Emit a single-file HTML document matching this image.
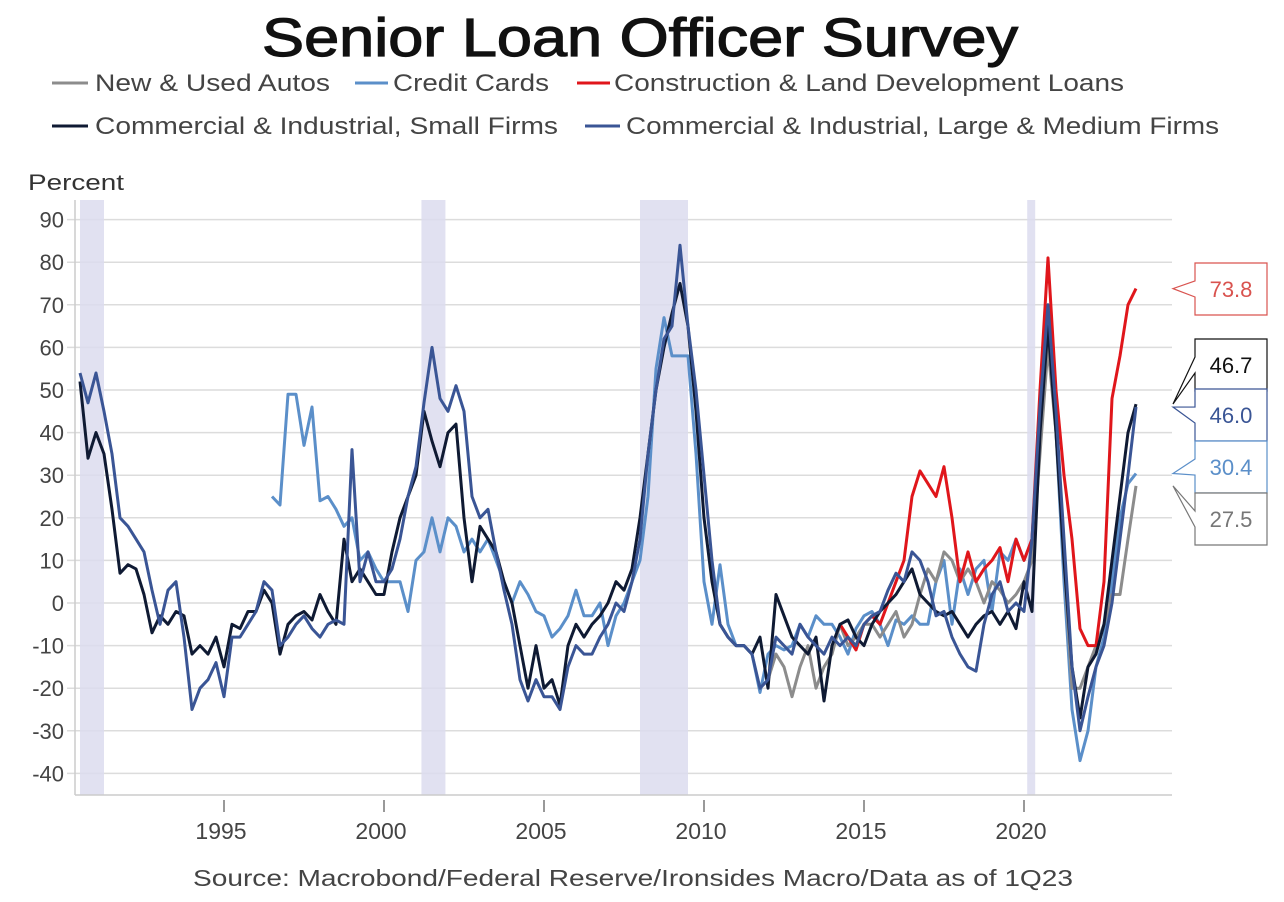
<!DOCTYPE html>
<html><head><meta charset="utf-8">
<style>
body{margin:0;background:#fff;font-family:"Liberation Sans",Arial,sans-serif;}
svg{display:block}
</style></head>
<body>
<svg id="chart" width="1284" height="902">
<text x="262" y="56" font-size="54" fill="#111" stroke="#111" stroke-width="1.2" textLength="756" lengthAdjust="spacingAndGlyphs">Senior Loan Officer Survey</text>
<g font-size="24" fill="#444">
 <g><line x1="52" y1="83" x2="88" y2="83" stroke="#8c8c8c" stroke-width="3"/><text x="95" y="91" textLength="235" lengthAdjust="spacingAndGlyphs">New &amp; Used Autos</text></g>
 <g><line x1="355" y1="83" x2="388" y2="83" stroke="#5b8fc9" stroke-width="3"/><text x="393" y="91" textLength="156" lengthAdjust="spacingAndGlyphs">Credit Cards</text></g>
 <g><line x1="577" y1="83" x2="610" y2="83" stroke="#e0161b" stroke-width="3"/><text x="614" y="91" textLength="510" lengthAdjust="spacingAndGlyphs">Construction &amp; Land Development Loans</text></g>
 <g><line x1="52" y1="126" x2="88" y2="126" stroke="#0f1a33" stroke-width="3"/><text x="95" y="134" textLength="463" lengthAdjust="spacingAndGlyphs">Commercial &amp; Industrial, Small Firms</text></g>
 <g><line x1="585" y1="126" x2="620" y2="126" stroke="#3a5595" stroke-width="3"/><text x="626" y="134" textLength="593" lengthAdjust="spacingAndGlyphs">Commercial &amp; Industrial, Large &amp; Medium Firms</text></g>
</g>
<text x="28" y="190" font-size="22" fill="#333" textLength="96" lengthAdjust="spacingAndGlyphs">Percent</text>
<g id="grid"></g><g id="rec"></g><g id="axes"></g><g id="series"></g><g id="tags"></g>
<text x="193" y="886" font-size="23" fill="#444" textLength="880" lengthAdjust="spacingAndGlyphs">Source: Macrobond/Federal Reserve/Ironsides Macro/Data as of 1Q23</text>
</svg>
<script>
const yTicks=[90,80,70,60,50,40,30,20,10,0,-10,-20,-30,-40];
const xTicks=[1995,2000,2005,2010,2015,2020];
const recessions=[[1990.5,1991.25],[2001.17,2001.92],[2008.0,2009.5],[2020.1,2020.35]];
const ciLargeStart=1990.5;
const ciLarge=[54,47,54,45,35,20,18,15,12,3,-5,3,5,-8,-25,-20,-18,-14,-22,-8,-8,-5,-2,5,3,-10,-8,-5,-3,-6,-8,-5,-4,-5,36,5,12,5,5,8,15,25,32,47,60,48,45,51,45,25,20,22,12,3,-5,-18,-23,-18,-22,-22,-25,-15,-10,-12,-12,-8,-5,0,-2,5,15,35,50,62,65,84,65,50,30,10,-5,-8,-10,-10,-12,-20,-18,-8,-10,-12,-5,-8,-10,-12,-8,-10,-8,-10,-5,-3,-2,3,7,5,12,10,5,-3,-2,-8,-12,-15,-16,-5,2,5,-2,0,-2,15,46,70,45,15,-15,-30,-22,-15,-10,0,15,30,46.0];
const ciSmallStart=1990.5;
const ciSmall=[52,34,40,35,22,7,9,8,2,-7,-3,-5,-2,-3,-12,-10,-12,-8,-15,-5,-6,-2,-2,3,0,-12,-5,-3,-2,-4,2,-2,-5,15,5,8,5,2,2,12,20,25,30,45,38,32,40,42,20,5,18,15,12,5,0,-10,-20,-10,-20,-18,-24,-10,-5,-8,-5,-3,0,5,3,8,20,35,50,60,68,75,65,45,20,5,-5,-8,-10,-10,-12,-8,-20,2,-3,-8,-10,-12,-8,-23,-10,-5,-4,-8,-10,-5,-2,0,2,5,8,2,0,-2,-3,-2,-5,-8,-5,-3,-2,-5,-2,-6,5,-2,40,65,40,10,-15,-27,-15,-12,-5,10,25,40,46.7];
const cardsStart=1996.5;
const cards=[25,23,49,49,37,46,24,25,22,18,20,10,12,8,5,5,5,-2,10,12,20,12,20,18,12,15,12,15,10,5,0,5,2,-2,-3,-8,-6,-3,3,-3,-3,0,-10,-3,0,5,10,25,55,67,58,58,58,35,5,-5,9,-5,-10,-10,-12,-21,-12,-10,-11,-10,-5,-8,-3,-5,-5,-8,-12,-6,-3,-2,-5,-10,-4,-5,-3,-5,-5,5,10,-5,8,2,8,10,-2,12,10,15,10,15,40,70,40,5,-25,-37,-30,-15,-8,5,20,28,30.4];
const autosStart=2011.75;
const autos=[-20,-18,-12,-15,-22,-15,-10,-20,-15,-12,-5,-10,-8,-5,-5,-8,-5,-2,-8,-5,2,8,5,12,10,5,8,5,0,5,3,0,2,5,10,35,60,40,10,-20,-20,-15,-10,-5,2,2,15,27.5];
const constrStart=2014.25;
const constr=[-5,-8,-11,-5,-3,-5,0,5,10,25,31,28,25,32,20,5,12,5,8,10,13,5,15,10,15,50,81,50,30,15,-6,-10,-10,5,48,58,70,73.8];

const NS="http://www.w3.org/2000/svg";
const X0=75,X1=1172,YPER=4.26;
const xS=y=>224+(y-1995)*32;
const yS=v=>603-v*YPER;
function mk(tag,attrs,parent){const e=document.createElementNS(NS,tag);for(const k in attrs)e.setAttribute(k,attrs[k]);parent.appendChild(e);return e;}
const grid=document.getElementById('grid'),axes=document.getElementById('axes');
yTicks.forEach(t=>{
 const l=mk('line',{x1:X0-8,x2:X1,y1:yS(t),y2:yS(t),stroke:'#dcdcdc','stroke-width':1.5},grid);
 
 
 const tx=mk('text',{x:64,y:yS(t)+8,'text-anchor':'end','font-size':22,fill:'#444'},axes);
 tx.textContent=t;
 
 
});
const rec=document.getElementById('rec');
recessions.forEach(r=>{
 const e=mk('rect',{x:xS(r[0]),y:200,width:xS(r[1])-xS(r[0]),height:595,fill:'#dcdcef',opacity:0.85},rec);
 
 
});
const ax=mk('line',{x1:X0,x2:X0,y1:200,y2:795,stroke:'#ccc','stroke-width':1.5},axes);


const bx=mk('line',{x1:X0,x2:X1,y1:795,y2:795,stroke:'#ccc','stroke-width':1.5},axes);


xTicks.forEach(t=>{
 const tk=mk('line',{x1:xS(t),x2:xS(t),y1:800,y2:812,stroke:'#555','stroke-width':1.2},axes);
 
 
 const tx=mk('text',{x:xS(t)-3,y:839,'text-anchor':'middle','font-size':23,fill:'#444'},axes);
 tx.textContent=t;
 
 
});
const ser=document.getElementById('series');
function drawSeries(start,vals,color,name,w){
 const d=vals.map((v,i)=>(i?'L':'M')+xS(start+i*0.25).toFixed(1)+','+yS(v).toFixed(1)).join('');
 const p=mk('path',{d:d,fill:'none',stroke:color,'stroke-width':w,'stroke-linejoin':'round'},ser);
 
 
}
drawSeries(cardsStart,cards,'#5b8fc9','series-credit-cards',3);
drawSeries(autosStart,autos,'#8c8c8c','series-autos',3);
drawSeries(constrStart,constr,'#e0161b','series-construction',3);
drawSeries(ciSmallStart,ciSmall,'#0f1a33','series-ci-small',3);
drawSeries(ciLargeStart,ciLarge,'#3a5595','series-ci-large',3);
const tags=document.getElementById('tags');
const tagVals=[constr[constr.length-1],ciSmall[ciSmall.length-1],ciLarge[ciLarge.length-1],cards[cards.length-1],autos[autos.length-1]];
const tagColors=['#d9534f','#111','#3a5595','#5b8fc9','#777'];
const tagTops=[263,339,389,441,493];
tagVals.forEach((v,i)=>{
 const top=tagTops[i],h=52,bx0=1195,bx1=1267,py=yS(v);
 const cy=top+h/2;
 const g=mk('g',{},tags);
 
 
 mk('path',{d:`M${bx0},${top}H${bx1}V${top+h}H${bx0}V${cy+8}L1173,${Math.min(Math.max(py,top-15),top+h+15)}L${bx0},${cy-8}Z`,fill:'#fff',stroke:tagColors[i],'stroke-width':1.2},g);
 const t=mk('text',{x:1231,y:cy+8,'text-anchor':'middle','font-size':22,fill:tagColors[i]},g);
 t.textContent=v.toFixed(1);
});
</script>
</body></html>
